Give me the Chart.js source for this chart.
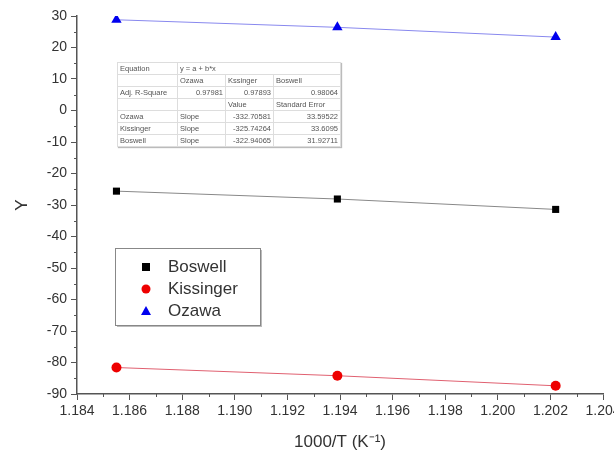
<!DOCTYPE html>
<html>
<head>
    <title>Activation Energy Fit</title>
    <script src="https://cdn.jsdelivr.net/npm/chart.js"></script>
    <style>
        body { margin: 0; background: #fff; }
        .wrap { position: relative; width: 614px; height: 457px; overflow: hidden; }
        #fitChart { display: block; }
        .fit-table {
            position: absolute; left: 117px; top: 62px; width: 223px; table-layout: fixed;
            border-collapse: collapse; font-family: "Liberation Sans", Arial, sans-serif;
            font-size: 7.5px; color: #555; background: #fff;
            border: 1px solid #999; box-shadow: 1px 1px 1px #bbb;
        }
        .fit-table td { border: 1px solid #ddd; height: 11px; padding: 0 2px; line-height: 11px; white-space: nowrap; overflow: hidden; }
        .fit-table td.n { text-align: right; }
    </style>
</head>
<body>
<div class="wrap">
    <canvas id="fitChart" width="614" height="457"></canvas>
    <table class="fit-table">
        <colgroup><col style="width:60px"><col style="width:48px"><col style="width:48px"><col style="width:67px"></colgroup>
        <tr><td>Equation</td><td colspan="3">y = a + b*x</td></tr>
        <tr><td></td><td>Ozawa</td><td>Kssinger</td><td>Boswell</td></tr>
        <tr><td>Adj. R-Square</td><td class="n">0.97981</td><td class="n">0.97893</td><td class="n">0.98064</td></tr>
        <tr><td></td><td></td><td>Value</td><td>Standard Error</td></tr>
        <tr><td>Ozawa</td><td>Slope</td><td class="n">-332.70581</td><td class="n">33.59522</td></tr>
        <tr><td>Kissinger</td><td>Slope</td><td class="n">-325.74264</td><td class="n">33.6095</td></tr>
        <tr><td>Boswell</td><td>Slope</td><td class="n">-322.94065</td><td class="n">31.92711</td></tr>
    </table>
</div>
<script>
    // 1000/T values and Y for each method
    const invT = [1.1855, 1.1939, 1.2022];
    const boswell = [-25.6, -28.1, -31.4];
    const kissinger = [-81.6, -84.2, -87.4];
    const ozawa = [28.8, 26.4, 23.3];

    const xTicks = [1.184, 1.186, 1.188, 1.190, 1.192, 1.194, 1.196, 1.198, 1.200, 1.202, 1.204];
    const yTicks = [30, 20, 10, 0, -10, -20, -30, -40, -50, -60, -70, -80, -90];

    const font = "'Liberation Sans', Arial, sans-serif";
    const axisColor = '#555';
    const textColor = '#333';

    function pts(ys) {
        return invT.map((x, i) => ({ x: x, y: ys[i] }));
    }

    // minor ticks + inside legend box
    const extras = {
        id: 'extras',
        afterDraw(chart) {
            const c = chart.ctx;
            const xs = chart.scales.x, ys = chart.scales.y;
            const area = chart.chartArea;
            c.save();
            c.strokeStyle = axisColor;
            c.lineWidth = 1;
            for (let i = 0; i < xTicks.length - 1; i++) {
                const px = Math.round(xs.getPixelForValue((xTicks[i] + xTicks[i + 1]) / 2)) + 0.5;
                c.beginPath(); c.moveTo(px, area.bottom); c.lineTo(px, area.bottom + 3); c.stroke();
            }
            for (let i = 0; i < yTicks.length - 1; i++) {
                const py = Math.round(ys.getPixelForValue((yTicks[i] + yTicks[i + 1]) / 2)) + 0.5;
                c.beginPath(); c.moveTo(area.left, py); c.lineTo(area.left - 3, py); c.stroke();
            }

            // legend box
            c.fillStyle = '#bbb';
            c.fillRect(117, 250, 145, 77);
            c.fillStyle = '#fff';
            c.fillRect(115, 248, 145, 77);
            c.strokeStyle = '#888';
            c.strokeRect(115.5, 248.5, 145, 77);
            c.font = '17px ' + font;
            c.textBaseline = 'middle';
            chart.data.datasets.forEach((ds, i) => {
                const y = 267 + i * 22;
                c.fillStyle = ds.pointBackgroundColor;
                if (ds.pointStyle === 'rect') {
                    c.fillRect(142, y - 4, 8, 8);
                } else if (ds.pointStyle === 'circle') {
                    c.beginPath(); c.arc(146, y, 4.5, 0, Math.PI * 2); c.fill();
                } else {
                    c.beginPath(); c.moveTo(146, y - 5); c.lineTo(151, y + 4); c.lineTo(141, y + 4); c.closePath(); c.fill();
                }
                c.fillStyle = textColor;
                c.fillText(ds.label, 168, y);
            });
            c.restore();
        }
    };

    const ctx = document.getElementById('fitChart').getContext('2d');
    new Chart(ctx, {
        type: 'scatter',
        data: {
            datasets: [{
                label: 'Boswell',
                data: pts(boswell),
                showLine: true,
                borderColor: '#888',
                borderWidth: 1,
                pointStyle: 'rect',
                pointRadius: 5,
                pointBackgroundColor: '#000',
                pointBorderColor: '#000',
                pointBorderWidth: 0
            }, {
                label: 'Kissinger',
                data: pts(kissinger),
                showLine: true,
                borderColor: '#e06070',
                borderWidth: 1,
                pointStyle: 'circle',
                pointRadius: 5,
                pointBackgroundColor: '#ee0000',
                pointBorderColor: '#ee0000',
                pointBorderWidth: 0
            }, {
                label: 'Ozawa',
                data: pts(ozawa),
                showLine: true,
                borderColor: '#8888ee',
                borderWidth: 1,
                pointStyle: 'triangle',
                pointRadius: 6,
                pointBackgroundColor: '#0000ee',
                pointBorderColor: '#0000ee',
                pointBorderWidth: 0
            }]
        },
        options: {
            responsive: false,
            animation: false,
            layout: { padding: { top: 16, right: 11, left: 0, bottom: 0 } },
            plugins: { legend: { display: false }, tooltip: { enabled: false } },
            scales: {
                x: {
                    type: 'linear',
                    min: 1.184,
                    max: 1.204,
                    afterBuildTicks(scale) { scale.ticks = xTicks.map(v => ({ value: v })); },
                    afterFit(scale) { scale.height = 63; scale.paddingLeft = 0; scale.paddingRight = 0; },
                    ticks: {
                        callback: v => v.toFixed(3),
                        color: textColor,
                        font: { family: font, size: 14 },
                        padding: 3,
                        maxRotation: 0,
                        autoSkip: false
                    },
                    grid: { drawOnChartArea: false, tickLength: 6, tickColor: axisColor, tickWidth: 1 },
                    border: { display: true, color: axisColor, width: 1.5 },
                    title: {
                        display: true,
                        text: '1000/T (K⁻¹)',
                        color: textColor,
                        font: { family: font, size: 17 },
                        padding: { top: 8 }
                    }
                },
                y: {
                    min: -90,
                    max: 30,
                    afterBuildTicks(scale) { scale.ticks = yTicks.map(v => ({ value: v })); },
                    afterFit(scale) { scale.width = 77; scale.paddingTop = 0; scale.paddingBottom = 0; },
                    ticks: {
                        color: textColor,
                        font: { family: font, size: 14 },
                        padding: 4,
                        autoSkip: false
                    },
                    grid: { drawOnChartArea: false, tickLength: 6, tickColor: axisColor, tickWidth: 1 },
                    border: { display: true, color: axisColor, width: 1.5 },
                    title: {
                        display: true,
                        text: 'Y',
                        color: textColor,
                        font: { family: font, size: 17 },
                        padding: { top: 12, bottom: 6 }
                    }
                }
            }
        },
        plugins: [extras]
    });
</script>
</body>
</html>
